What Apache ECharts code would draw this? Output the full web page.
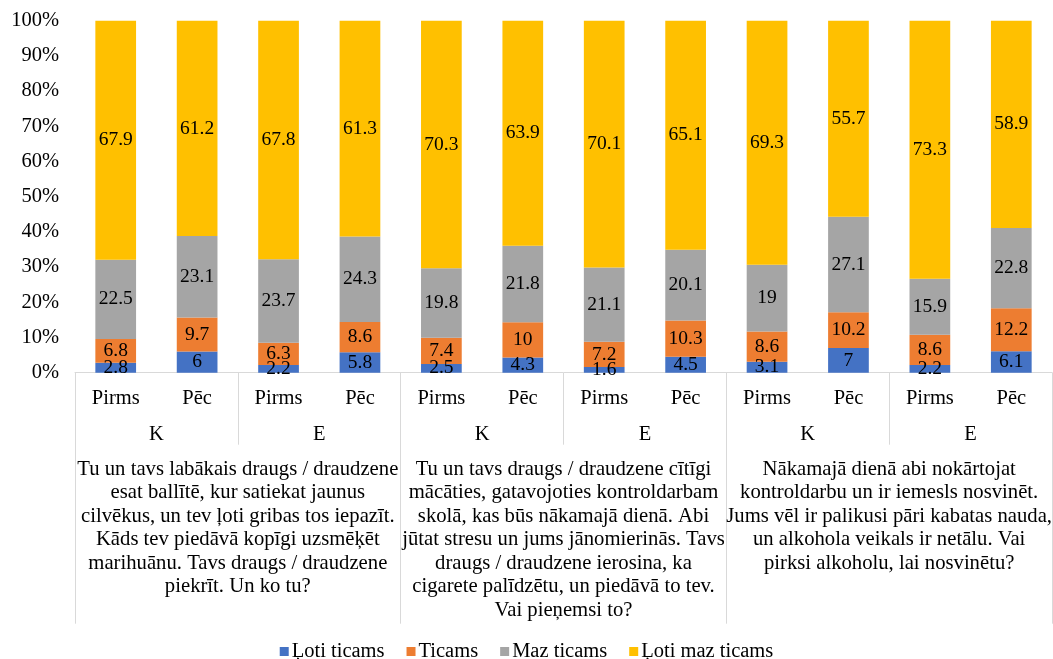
<!DOCTYPE html>
<html>
<head>
<meta charset="utf-8">
<script src="https://cdn.jsdelivr.net/npm/echarts@6/dist/echarts.min.js"></script>
<style>
html,body{margin:0;padding:0;background:#fff;}
#chart{width:1053px;height:659px;}
</style>
</head>
<body>
<div id="chart"></div>
<script>
const categories = ['Pirms','Pēc','Pirms','Pēc','Pirms','Pēc','Pirms','Pēc','Pirms','Pēc','Pirms','Pēc'];
const groups = ['K','E','K','E','K','E'];
const scenarios = [
  'Tu un tavs labākais draugs / draudzene\nesat ballītē, kur satiekat jaunus\ncilvēkus, un tev ļoti gribas tos iepazīt.\nKāds tev piedāvā kopīgi uzsmēķēt\nmarihuānu. Tavs draugs / draudzene\npiekrīt. Un ko tu?',
  'Tu un tavs draugs / draudzene cītīgi\nmācāties, gatavojoties kontroldarbam\nskolā, kas būs nākamajā dienā. Abi\njūtat stresu un jums jānomierinās. Tavs\ndraugs / draudzene ierosina, ka\ncigarete palīdzētu, un piedāvā to tev.\nVai pieņemsi to?',
  'Nākamajā dienā abi nokārtojat\nkontroldarbu un ir iemesls nosvinēt.\nJums vēl ir palikusi pāri kabatas nauda,\nun alkohola veikals ir netālu. Vai\npirksi alkoholu, lai nosvinētu?'
];
const seriesNames = ['Ļoti ticams','Ticams','Maz ticams','Ļoti maz ticams'];
const veryLikely = [2.8, 6, 2.2, 5.8, 2.5, 4.3, 1.6, 4.5, 3.1, 7, 2.2, 6.1];
const likely = [6.8, 9.7, 6.3, 8.6, 7.4, 10, 7.2, 10.3, 8.6, 10.2, 8.6, 12.2];
const lowLikely = [22.5, 23.1, 23.7, 24.3, 19.8, 21.8, 21.1, 20.1, 19, 27.1, 15.9, 22.8];
const veryLowLikely = [67.9, 61.2, 67.8, 61.3, 70.3, 63.9, 70.1, 65.1, 69.3, 55.7, 73.3, 58.9];
const yTicks = [0,10,20,30,40,50,60,70,80,90,100];

const FONT = '"Liberation Serif", "Times New Roman", serif';
const colors = ['#4472C4','#ED7D31','#A5A5A5','#FFC000'];
const lineColor = '#D9D9D9';

const chart = echarts.init(document.getElementById('chart'), null, {renderer:'canvas'});
const allData = [veryLikely, likely, lowLikely, veryLowLikely];

chart.setOption({
  animation: false,
  textStyle: {fontFamily: FONT},
  color: colors,
  grid: {left: 75, right: 1, top: 20.7, bottom: 286.3, containLabel: false, outerBoundsMode: 'none'},
  legend: {
    data: seriesNames,
    top: 636,
    left: 'center',
    icon: 'rect',
    itemWidth: 9,
    itemHeight: 9,
    itemGap: 22,
    textStyle: {fontFamily: FONT, fontSize: 20.5, color: '#000', padding: [0,0,0,-2]}
  },
  xAxis: [
    {
      type: 'category', data: categories, position: 'bottom',
      axisLine: {show: true, lineStyle: {color: lineColor, width: 1}},
      axisTick: {show: false},
      axisLabel: {interval: 0, margin: 15, fontSize: 20.5, color: '#000', fontFamily: FONT}
    },
    {
      type: 'category', data: groups, position: 'bottom',
      axisLine: {show: false},
      axisTick: {show: true, length: 72, interval: 0, lineStyle: {color: lineColor, width: 1}},
      axisLabel: {interval: 0, margin: 51, fontSize: 20.5, color: '#000', fontFamily: FONT}
    },
    {
      type: 'category', data: scenarios, position: 'bottom',
      axisLine: {show: false},
      axisTick: {show: true, length: 251, interval: 0, lineStyle: {color: lineColor, width: 1}},
      axisLabel: {interval: 0, margin: 85, fontSize: 20.7, lineHeight: 23.5, color: '#000', fontFamily: FONT, align: 'center'}
    }
  ],
  yAxis: {
    type: 'value', min: 0, max: 100, interval: 10,
    axisLine: {show: false}, axisTick: {show: false}, splitLine: {show: false},
    axisLabel: {formatter: '{value}%', fontSize: 20.5, color: '#000', margin: 16, fontFamily: FONT}
  },
  series: allData.map((d, i) => ({
    name: seriesNames[i],
    type: 'bar',
    stack: 'total',
    xAxisIndex: 0,
    barWidth: '50%',
    data: d,
    itemStyle: {color: colors[i]},
    label: {show: true, position: 'inside', fontSize: 19.5, color: '#000', fontFamily: FONT}
  }))
});
</script>
</body>
</html>
